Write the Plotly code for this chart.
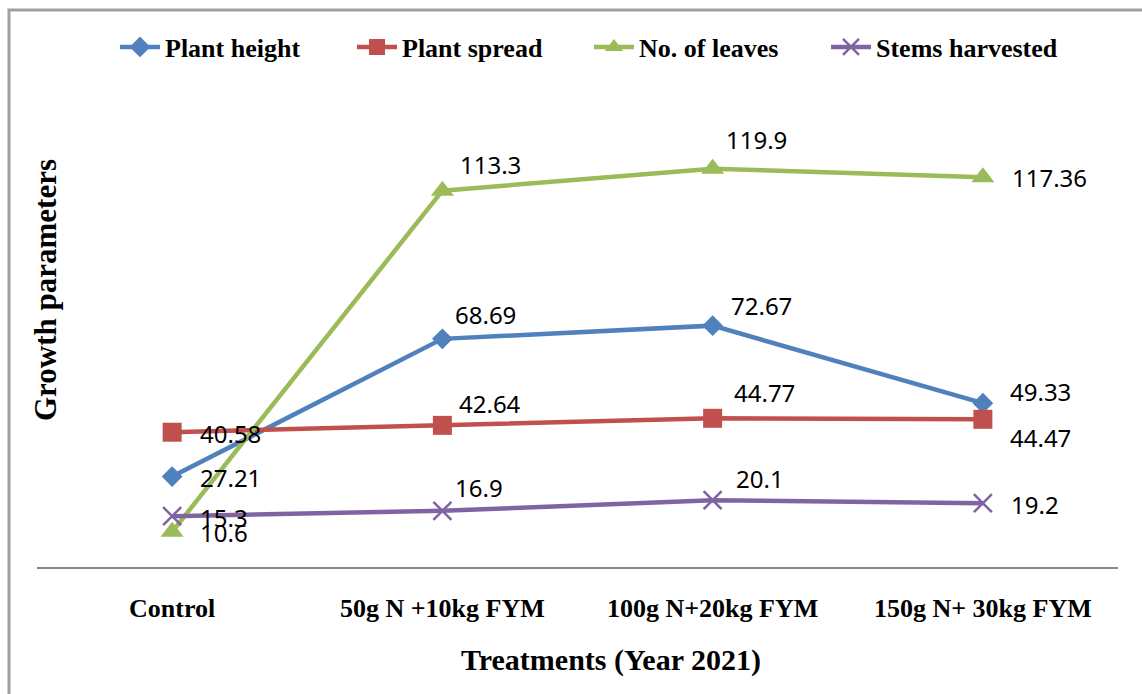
import plotly.graph_objects as go

# ---- data ----
treatments = ["Control", "50g N +10kg FYM", "100g N+20kg FYM", "150g N+ 30kg FYM"]
plant_height = [27.21, 68.69, 72.67, 49.33]
plant_spread = [40.58, 42.64, 44.77, 44.47]
no_of_leaves = [10.6, 113.3, 119.9, 117.36]
stems_harvested = [15.3, 16.9, 20.1, 19.2]
series_names = ["Plant height", "Plant spread", "No. of leaves", "Stems harvested"]
y_title = "Growth parameters"
x_title = "Treatments (Year 2021)"

# ---- styles ----
colors = ["#4F81BD", "#C0504D", "#9BBB59", "#8064A2"]
symbols = ["diamond", "square", "triangle-up", "x-thin"]
msizes = [16, 19, 20, 18]
# label offsets in pixels (xshift, yshift) per series per category
label_offsets = [
    [(26, -1), (11, 24), (16, 20), (25, 12)],
    [(26, -1), (15, 22), (19, 26), (25, -18)],
    [(26, -1), (16, 26), (11, 29), (27, 0)],
    [(26, -1), (11, 23), (21, 22), (26, -1)],
]

series = [plant_height, plant_spread, no_of_leaves, stems_harvested]

fig = go.Figure()
for name, vals, c, s, ms in zip(series_names, series, colors, symbols, msizes):
    marker = dict(symbol=s, size=ms, color=c)
    if s == "x-thin":
        marker["line"] = dict(color=c, width=2.5)
    fig.add_trace(go.Scatter(
        x=treatments, y=vals, name=name, mode="lines+markers",
        line=dict(color=c, width=4.5), marker=marker, cliponaxis=False,
    ))

annotations = []
for vals, offs in zip(series, label_offsets):
    for cat, v, (dx, dy) in zip(treatments, vals, offs):
        annotations.append(dict(
            x=cat, y=v, xref="x", yref="y", text=f"{v:g}", showarrow=False,
            xanchor="left", yanchor="middle", xshift=dx, yshift=dy,
            font=dict(family="Noto Sans", size=24, color="#000000"),
        ))

annotations.append(dict(
    x=(45 - 37) / 1081, y=(567 - 290) / 465, xref="paper", yref="paper",
    text=y_title, textangle=-90, showarrow=False, xanchor="center", yanchor="middle",
    font=dict(family="Liberation Serif", size=31, color="#000000", weight="bold"),
))
annotations.append(dict(
    x=(611 - 37) / 1081, y=(567 - 660) / 465, xref="paper", yref="paper",
    text=x_title, showarrow=False, xanchor="center", yanchor="middle",
    font=dict(family="Liberation Serif", size=30, color="#000000", weight="bold"),
))

fig.update_layout(
    width=1142, height=694,
    margin=dict(l=37, r=24, t=102, b=127),
    paper_bgcolor="white", plot_bgcolor="white",
    showlegend=True,
    legend=dict(
        orientation="h", x=(589 - 37) / 1081, xanchor="center",
        y=1 + (102 - 47) / 465, yanchor="middle",
        font=dict(family="Liberation Serif", size=26, color="#000000", weight="bold"),
        bgcolor="rgba(0,0,0,0)", itemwidth=40, tracegroupgap=0,
        entrywidth=182, entrywidthmode="pixels",
    ),
    xaxis=dict(
        type="category", range=[-0.5, 3.5], showgrid=False, zeroline=False,
        showline=True, linecolor="#868686", linewidth=2, ticks="",
        ticklabelstandoff=17,
        tickfont=dict(family="Liberation Serif", size=26, color="#000000", weight="bold"),
    ),
    yaxis=dict(
        range=[0, 140], showgrid=False, zeroline=False, showline=False,
        showticklabels=False, ticks="",
    ),
    annotations=annotations,
    shapes=[dict(
        type="rect", xref="paper", yref="paper",
        x0=(9 - 37) / 1081, x1=(1160 - 37) / 1081,
        y0=(567 - 720) / 465, y1=(567 - 10) / 465,
        line=dict(color="#A0A0A0", width=3), fillcolor="rgba(0,0,0,0)", layer="below",
    )],
)

fig.write_html(
    "out.html",
    config={"displayModeBar": False},
    post_script="document.body.style.margin='0';document.body.style.overflow='hidden';",
)
